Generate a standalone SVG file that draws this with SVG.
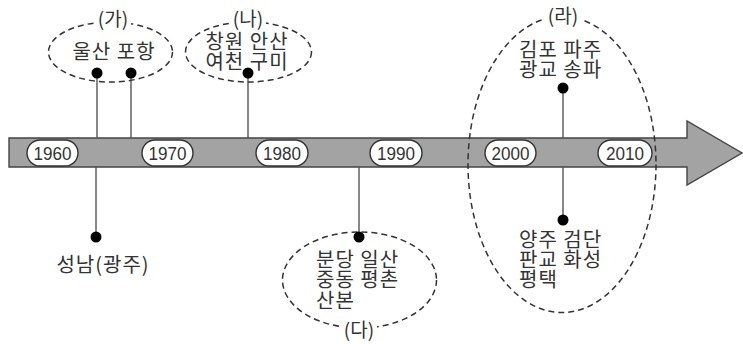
<svg xmlns="http://www.w3.org/2000/svg" width="743" height="344" viewBox="0 0 743 344">
<style>
.t{font-family:"Noto Sans CJK KR","Noto Sans",sans-serif;font-size:20px;fill:#333;letter-spacing:1px;}
.y{font-family:"Liberation Sans",Arial,sans-serif;font-size:18px;fill:#333;text-anchor:middle;}
.pill{fill:#fff;stroke:#333;stroke-width:1.4;}
.el{fill:none;stroke:#333;stroke-width:1.5;stroke-dasharray:6,4;}
.stem{stroke:#555;stroke-width:1.4;}
.dot{fill:#000;}
.lab{font-family:"Noto Sans CJK KR","Noto Sans",sans-serif;font-size:19px;fill:#333;text-anchor:middle;}
</style>
<rect width="743" height="344" fill="#fff"/>
<g id="timeline">
<path d="M9,138 H687 V121 L742,153 L687,185 V167 H9 Z" fill="#a3a3a3" stroke="#444" stroke-width="1.4"/>
</g>
<g id="years">
<rect class="pill" x="27" y="140" width="51" height="26" rx="13"/><text class="y" x="52.5" y="159.5" textLength="38" lengthAdjust="spacingAndGlyphs">1960</text>
<rect class="pill" x="142" y="140" width="51" height="26" rx="13"/><text class="y" x="167.5" y="159.5" textLength="38" lengthAdjust="spacingAndGlyphs">1970</text>
<rect class="pill" x="256" y="140" width="52" height="26" rx="13"/><text class="y" x="282" y="159.5" textLength="38" lengthAdjust="spacingAndGlyphs">1980</text>
<rect class="pill" x="370" y="140" width="52" height="26" rx="13"/><text class="y" x="396" y="159.5" textLength="38" lengthAdjust="spacingAndGlyphs">1990</text>
<rect class="pill" x="485" y="140" width="51" height="26" rx="13"/><text class="y" x="510.5" y="159.5" textLength="38" lengthAdjust="spacingAndGlyphs">2000</text>
<rect class="pill" x="598" y="140" width="54" height="26" rx="13"/><text class="y" x="625" y="159.5" textLength="38" lengthAdjust="spacingAndGlyphs">2010</text>
</g>
<g id="connectors">
<line class="stem" x1="97" y1="73" x2="97" y2="138"/>
<line class="stem" x1="131" y1="73" x2="131" y2="138"/>
<line class="stem" x1="248" y1="73" x2="248" y2="138"/>
<line class="stem" x1="96" y1="167" x2="96" y2="237"/>
<line class="stem" x1="359" y1="167" x2="359" y2="237"/>
<line class="stem" x1="563" y1="88" x2="563" y2="138"/>
<line class="stem" x1="563" y1="167" x2="563" y2="220"/>
</g>
<g id="group-ga">
<ellipse class="el" cx="110.5" cy="52" rx="62" ry="30"/>
<rect x="95" y="8" width="36" height="22" fill="#fff"/>
<text class="lab" x="113" y="26">(가)</text>
<text class="t" x="114" y="59" text-anchor="middle">울산 포항</text>
<circle class="dot" cx="97" cy="73" r="5.5"/>
<circle class="dot" cx="131" cy="73" r="5.5"/>
</g>
<g id="group-na">
<ellipse class="el" cx="248.5" cy="52" rx="63" ry="30"/>
<rect x="230" y="8" width="36" height="22" fill="#fff"/>
<text class="lab" x="248" y="26">(나)</text>
<text class="t" x="247" y="49" text-anchor="middle">창원 안산</text>
<text class="t" x="247" y="69" text-anchor="middle">여천 구미</text>
<circle class="dot" cx="248" cy="73" r="5.5"/>
</g>
<g id="group-seongnam">
<circle class="dot" cx="96" cy="237" r="5.5"/>
<text class="t" x="103" y="272" text-anchor="middle">성남(광주)</text>
</g>
<g id="group-da">
<ellipse class="el" cx="359.5" cy="280" rx="77" ry="48"/>
<rect x="341" y="318" width="36" height="24" fill="#fff"/>
<text class="lab" x="359" y="337">(다)</text>
<text class="t" x="316" y="267">분당 일산</text>
<text class="t" x="316" y="287">중동 평촌</text>
<text class="t" x="316" y="308">산본</text>
<circle class="dot" cx="359" cy="237" r="5.5"/>
</g>
<g id="group-ra">
<ellipse class="el" cx="562" cy="164.5" rx="94" ry="148"/>
<rect x="545" y="5" width="36" height="22" fill="#fff"/>
<text class="lab" x="563" y="23">(라)</text>
<text class="t" x="519" y="57">김포 파주</text>
<text class="t" x="519" y="77">광교 송파</text>
<circle class="dot" cx="563" cy="88" r="5.5"/>
<circle class="dot" cx="563" cy="220" r="5.5"/>
<text class="t" x="519" y="247">양주 검단</text>
<text class="t" x="519" y="267">판교 화성</text>
<text class="t" x="519" y="287">평택</text>
</g>
</svg>
